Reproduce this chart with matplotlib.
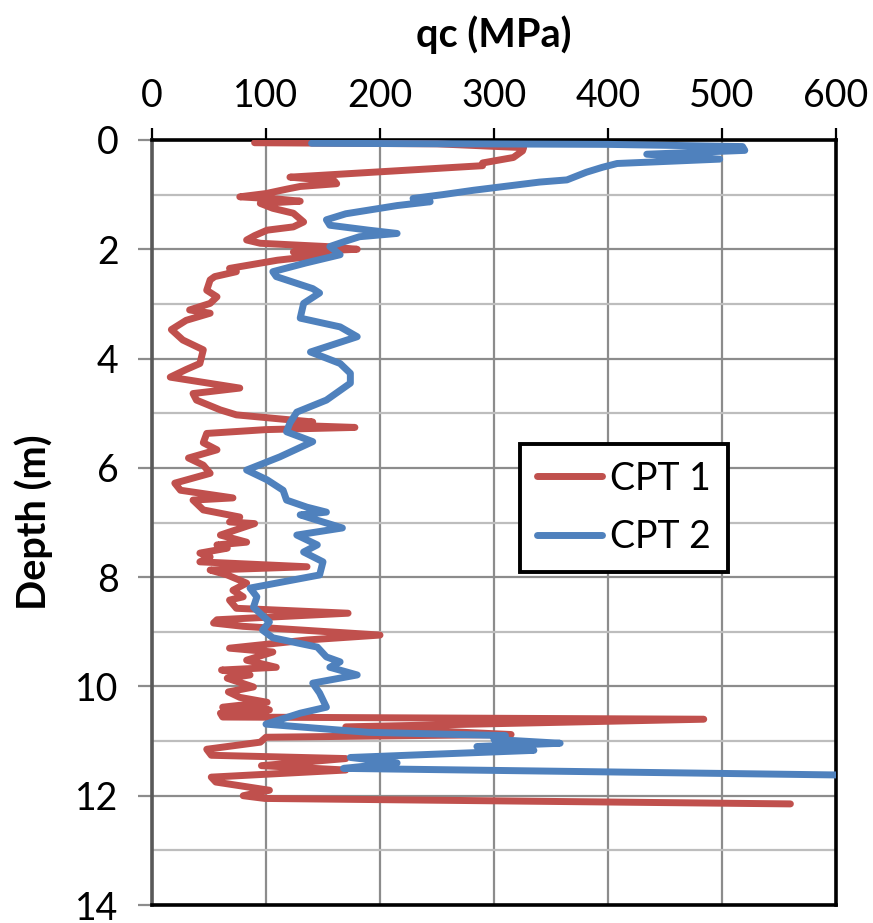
import matplotlib
matplotlib.use("Agg")
import matplotlib.pyplot as plt
from matplotlib.ticker import MultipleLocator

plt.rcParams['font.family'] = ['Lato', 'DejaVu Sans']

# CPT 1 (red)
cpt1_depth = [0.05, 0.07, 0.14, 0.20, 0.32, 0.42, 0.47, 0.68, 0.75, 0.80, 0.85, 0.90, 0.98, 1.04,
              1.08, 1.12, 1.16, 1.25, 1.34, 1.50, 1.59, 1.65, 1.75, 1.83, 1.89, 1.95, 2.00, 2.05,
              2.10, 2.20, 2.35, 2.41, 2.50, 2.56, 2.75, 2.87, 2.99, 3.11, 3.17, 3.30, 3.47, 3.66,
              3.84, 4.09, 4.20, 4.34, 4.54, 4.64, 4.76, 4.94, 5.03, 5.10, 5.16, 5.22, 5.26, 5.30,
              5.37, 5.54, 5.67, 5.82, 5.95, 6.10, 6.28, 6.41, 6.55, 6.59, 6.77, 6.90, 6.99, 7.02,
              7.23, 7.36, 7.41, 7.47, 7.56, 7.63, 7.72, 7.81, 7.87, 7.96, 8.11, 8.24, 8.36, 8.42,
              8.57, 8.66, 8.78, 8.84, 8.90, 9.06, 9.15, 9.30, 9.37, 9.52, 9.65, 9.70, 9.79, 9.85,
              10.01, 10.10, 10.20, 10.29, 10.38, 10.43, 10.49, 10.56, 10.60, 10.74, 10.88, 10.93,
              11.02, 11.15, 11.26, 11.32, 11.45, 11.53, 11.66, 11.75, 11.90, 12.00, 12.05, 12.15]
cpt1_qc = [90, 250, 326, 325, 317, 290, 290, 121, 160, 162, 130, 118, 100, 77,
           110, 130, 95, 106, 124, 133, 124, 101, 90, 83, 95, 153, 180, 124,
           153, 110, 68, 74, 55, 51, 48, 57, 51, 33, 51, 30, 17, 27,
           45, 42, 30, 16, 77, 36, 39, 60, 74, 110, 141, 121, 178, 100,
           48, 45, 57, 32, 45, 51, 20, 25, 71, 36, 45, 77, 68, 90,
           60, 83, 57, 66, 42, 51, 42, 136, 51, 66, 83, 71, 80, 68,
           74, 172, 57, 54, 80, 200, 136, 68, 106, 83, 109, 61, 86, 66,
           89, 67, 77, 101, 62, 103, 60, 62, 484, 170, 315, 100,
           95, 48, 52, 170, 96, 170, 52, 56, 103, 80, 99, 560]

# CPT 2 (blue)
cpt2_depth = [0.06, 0.08, 0.12, 0.19, 0.26, 0.35, 0.43, 0.50, 0.59, 0.73, 0.77, 0.92, 1.00, 1.04,
              1.07, 1.13, 1.20, 1.25, 1.35, 1.46, 1.56, 1.65, 1.71, 1.77, 1.85, 1.95, 2.10, 2.25,
              2.41, 2.50, 2.72, 2.80, 2.99, 3.26, 3.42, 3.60, 3.88, 4.09, 4.27, 4.45, 4.76, 4.98,
              5.18, 5.34, 5.52, 5.80, 6.04, 6.22, 6.41, 6.59, 6.72, 6.81, 6.86, 6.92, 7.10, 7.23,
              7.41, 7.54, 7.72, 7.96, 8.20, 8.36, 8.55, 8.82, 8.97, 9.11, 9.28, 9.46, 9.55, 9.65,
              9.79, 9.94, 10.12, 10.38, 10.49, 10.69, 10.80, 10.84, 10.90, 10.97, 11.04, 11.10,
              11.17, 11.30, 11.40, 11.50, 11.62]
cpt2_qc = [140, 400, 518, 520, 434, 498, 408, 395, 381, 364, 340, 282, 255, 240,
           229, 244, 215, 200, 170, 153, 156, 190, 215, 182, 170, 156, 165, 135,
           106, 109, 141, 147, 133, 130, 165, 180, 139, 165, 174, 174, 153, 127,
           121, 118, 141, 112, 83, 101, 115, 118, 136, 153, 130, 139, 167, 127,
           145, 133, 150, 147, 86, 92, 89, 103, 97, 106, 145, 153, 165, 156,
           180, 141, 147, 153, 130, 100, 165, 190, 310, 300, 358, 285,
           335, 174, 215, 168, 600]

x_ticks = [0, 100, 200, 300, 400, 500, 600]
y_ticks = [0, 2, 4, 6, 8, 10, 12, 14]

fig = plt.figure(figsize=(8.73, 9.23), dpi=100)
ax = fig.add_axes([152/873, 1 - 905/923, 684/873, 765/923])

ax.plot(cpt1_qc, cpt1_depth, color='#C0504D', lw=5.0, solid_joinstyle='round',
        solid_capstyle='round', label='CPT 1', zorder=3)
ax.plot(cpt2_qc, cpt2_depth, color='#4F81BD', lw=5.0, solid_joinstyle='round',
        solid_capstyle='round', label='CPT 2', zorder=4)

ax.set_xlim(0, 600)
ax.set_ylim(14, 0)
ax.set_xticks(x_ticks)
ax.set_yticks(y_ticks)
ax.yaxis.set_minor_locator(MultipleLocator(1))
ax.xaxis.tick_top()
ax.xaxis.set_label_position('top')

ax.grid(True, which='major', color='#8c8c8c', lw=1.6, zorder=1)
ax.grid(True, which='minor', axis='y', color='#bdbdbd', lw=1.6, zorder=1)
ax.set_axisbelow(True)

for side in ['top', 'right', 'bottom']:
    ax.spines[side].set_color('black')
    ax.spines[side].set_linewidth(2.6)
ax.spines['left'].set_color('#595959')
ax.spines['left'].set_linewidth(2.6)

ax.tick_params(axis='x', which='major', direction='out', length=9, width=1.6,
               color='black', labelsize=27, pad=10)
ax.tick_params(axis='y', which='major', direction='out', length=10, width=1.6,
               color='#8c8c8c', labelsize=27, pad=14)
ax.tick_params(axis='y', which='minor', length=0)

ax.set_xlabel('qc (MPa)', fontsize=28.5, fontweight='bold', labelpad=22)
ax.set_ylabel('Depth (m)', fontsize=28.5, fontweight='bold', labelpad=16)

leg = ax.legend(loc='upper left', bbox_to_anchor=(0.538, 0.603), fontsize=27,
                frameon=True, fancybox=False, framealpha=1, handlelength=1.75,
                handletextpad=0.2, borderpad=0.45, labelspacing=0.6, borderaxespad=0)
leg.get_frame().set_edgecolor('black')
leg.get_frame().set_linewidth(2.8)
for line in leg.get_lines():
    line.set_linewidth(5.0)

fig.savefig('out.png', dpi=100)
